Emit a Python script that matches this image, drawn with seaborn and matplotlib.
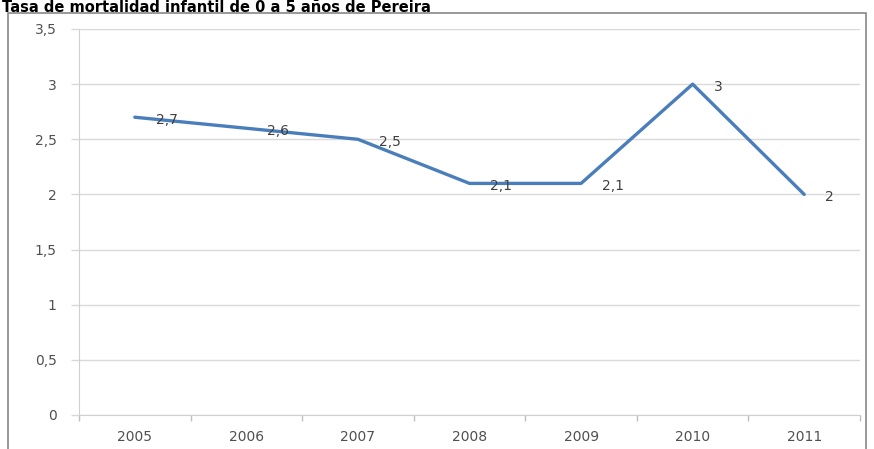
import numpy as np
import pandas as pd
import matplotlib.pyplot as plt
import seaborn as sns
from matplotlib.patches import Rectangle
from matplotlib.ticker import FixedLocator

# Datos
anios = ['2005', '2006', '2007', '2008', '2009', '2010', '2011']
tasa = [2.7, 2.6, 2.5, 2.1, 2.1, 3.0, 2.0]
etiquetas = ['2,7', '2,6', '2,5', '2,1', '2,1', '3', '2']
yticks = [0, 0.5, 1, 1.5, 2, 2.5, 3, 3.5]
ytick_labels = ['0', '0,5', '1', '1,5', '2', '2,5', '3', '3,5']

df = pd.DataFrame({'Anio': anios, 'Tasa': tasa})

sns.set_style("white")
plt.rcParams['font.family'] = ['DejaVu Sans']

fig = plt.figure(figsize=(8.74, 4.49), dpi=100)
ax = fig.add_axes([79 / 874, 34 / 449, 781 / 874, 386 / 449])

sns.lineplot(x='Anio', y='Tasa', data=df, color='#4A7EBB', lw=2.4, ax=ax, sort=False)

# Etiquetas de datos
for i, (v, t) in enumerate(zip(tasa, etiquetas)):
    ax.annotate(t, (i, v), xytext=(15, -2), textcoords='offset points',
                ha='left', va='center', fontsize=10, color='#404040')

ax.set_xlim(-0.5, 6.5)
ax.set_ylim(0, 3.5)
ax.set_yticks(yticks)
ax.set_yticklabels(ytick_labels)
ax.xaxis.set_minor_locator(FixedLocator(np.arange(-0.5, 7, 1)))
ax.tick_params(axis='x', which='major', length=0, pad=11, labelsize=10, labelcolor='#505050')
ax.tick_params(axis='x', which='minor', length=4, color='#BFBFBF', width=1, bottom=True)
ax.tick_params(axis='y', length=6, color='#D9D9D9', width=1, pad=10, labelsize=10,
               labelcolor='#505050', left=True)
ax.yaxis.grid(True, color='#D9D9D9', lw=1)
ax.set_axisbelow(True)
for s in ['top', 'right']:
    ax.spines[s].set_visible(False)
ax.spines['left'].set_color('#D0D0D0')
ax.spines['bottom'].set_color('#D0D0D0')
ax.set_xlabel('')
ax.set_ylabel('')

# Marco del gráfico
fig.patches.append(Rectangle((8 / 874, -0.05), 858 / 874, 1 - 13 / 449 + 0.05,
                             transform=fig.transFigure, fill=False,
                             edgecolor='#888888', lw=1.2))

# Titulo
fig.text(2 / 874, 1 - 12 / 449, 'Tasa de mortalidad infantil de 0 a 5 años de Pereira',
         ha='left', va='baseline', fontsize=10.5, fontweight='bold', color='black')

plt.savefig('out.png', dpi=100)
plt.close()
